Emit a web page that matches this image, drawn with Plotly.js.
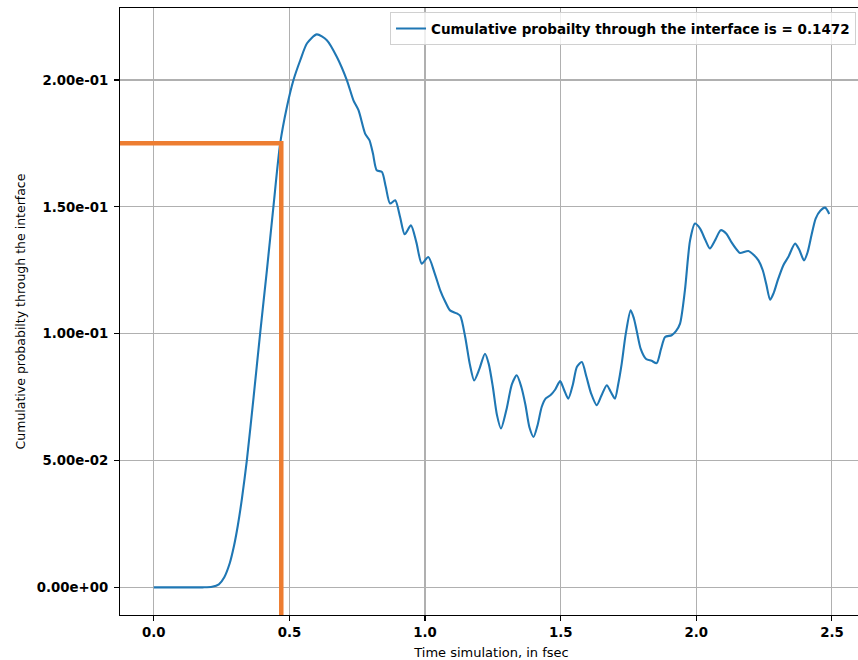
<!DOCTYPE html>
<html>
<head>
<meta charset="utf-8">
<script src="https://cdn.plot.ly/plotly-3.0.1.min.js"></script>
<style>
html,body{margin:0;padding:0;overflow:hidden;background:#fff;}
#chart{width:863px;height:660px;}
</style>
</head>
<body>
<div id="chart"></div>
<script>
// Time (fsec)
const timeFs = [0.00,0.10,0.18,0.215,0.24,0.26,0.28,0.295,0.31,0.325,0.343,0.368,0.392,0.417,0.441,0.466,0.490,0.515,0.540,0.565,0.601,0.638,0.675,0.712,0.736,0.755,0.779,0.795,0.808,0.822,0.841,0.855,0.871,0.890,0.908,0.925,0.948,0.968,0.988,1.012,1.035,1.056,1.075,1.092,1.117,1.130,1.148,1.165,1.181,1.200,1.221,1.235,1.250,1.265,1.280,1.300,1.320,1.338,1.355,1.370,1.385,1.400,1.415,1.430,1.445,1.462,1.480,1.498,1.512,1.528,1.545,1.560,1.578,1.595,1.612,1.633,1.650,1.670,1.685,1.700,1.712,1.725,1.740,1.758,1.770,1.780,1.795,1.815,1.835,1.854,1.870,1.885,1.909,1.925,1.940,1.958,1.977,1.995,2.014,2.033,2.050,2.070,2.090,2.110,2.130,2.150,2.161,2.192,2.212,2.229,2.245,2.258,2.272,2.285,2.300,2.321,2.339,2.364,2.380,2.397,2.410,2.425,2.440,2.457,2.475,2.490];
// Cumulative probability
const cumProb = [0,0,0,0.0002,0.0012,0.0040,0.0095,0.0160,0.0245,0.035,0.050,0.075,0.100,0.125,0.150,0.175,0.189,0.200,0.2078,0.2145,0.2180,0.2157,0.2091,0.1999,0.192,0.188,0.1789,0.1763,0.171,0.1644,0.1638,0.158,0.1513,0.1526,0.146,0.1392,0.1427,0.136,0.1276,0.1302,0.124,0.1171,0.1125,0.1092,0.1080,0.1070,0.0987,0.088,0.0816,0.086,0.0921,0.088,0.0790,0.068,0.0626,0.070,0.080,0.0836,0.079,0.0720,0.063,0.0593,0.064,0.0711,0.0745,0.0757,0.078,0.0813,0.078,0.0744,0.080,0.087,0.0888,0.083,0.0765,0.0718,0.0755,0.0797,0.077,0.0744,0.080,0.0882,0.100,0.1092,0.106,0.1013,0.094,0.0900,0.0893,0.0884,0.094,0.0987,0.0994,0.1010,0.104,0.1171,0.1368,0.1434,0.1414,0.1370,0.1336,0.137,0.1408,0.1395,0.1360,0.1330,0.1318,0.1326,0.1310,0.1289,0.1250,0.1195,0.1134,0.116,0.1210,0.1270,0.1302,0.1355,0.1330,0.1289,0.1320,0.1390,0.1454,0.1485,0.1497,0.1472];
// Orange marker lines (time, probability)
const markX = [-0.14, 0.47, 0.47];
const markY = [0.1751, 0.1751, -0.02];
// Tick labels
const yTickVals = [0, 0.05, 0.10, 0.15, 0.20];
const yTickText = ['0.00e+00','5.00e-02','1.00e-01','1.50e-01','2.00e-01'];
const xTickVals = [0, 0.5, 1.0, 1.5, 2.0, 2.5];
const xTickText = ['0.0','0.5','1.0','1.5','2.0','2.5'];

const tickFont = {family:'DejaVu Sans', size:13.3, color:'#000', weight:'bold'};
const legFont = {family:'DejaVu Sans', size:13.5, color:'#000', weight:'bold'};

const traces = [
  {x: timeFs, y: cumProb, type:'scatter', mode:'lines',
   name:'Cumulative probailty through the interface is = 0.1472',
   line:{color:'#1f77b4', width:2.1, shape:'spline', smoothing:0.7}},
  {x: markX, y: markY, type:'scatter', mode:'lines', showlegend:false,
   line:{color:'#ed7d31', width:4.5}}
];

const layout = {
  width:863, height:660,
  margin:{l:120, r:0, t:8, b:45},
  paper_bgcolor:'#fff', plot_bgcolor:'#fff',
  showlegend:true,
  legend:{x:0.9906, y:0.993, xanchor:'right', yanchor:'top',
          bgcolor:'rgba(255,255,255,0.8)', bordercolor:'#d0d0d0', borderwidth:1,
          font:legFont, itemwidth:30, tracegroupgap:0},
  xaxis:{range:[-0.1245, 2.6145], tickvals:xTickVals, ticktext:xTickText,
         showgrid:true, gridcolor:'#b0b0b0', gridwidth:1.1, zeroline:false,
         showline:true, linecolor:'#000', linewidth:1.1, mirror:true,
         ticks:'outside', ticklen:5, tickwidth:1.1, tickcolor:'#000',
         tickfont:tickFont,
         title:{text:'Time simulation, in fsec', font:{family:'DejaVu Sans', size:13, color:'#000'}, standoff:9}},
  yaxis:{range:[-0.0109, 0.2284], tickvals:yTickVals, ticktext:yTickText,
         showgrid:true, gridcolor:'#b0b0b0', gridwidth:1.1, zeroline:false,
         showline:true, linecolor:'#000', linewidth:1.1, mirror:true,
         ticks:'outside', ticklen:5, tickwidth:1.1, tickcolor:'#000',
         tickfont:tickFont, ticklabelstandoff:3,
         title:{text:'Cumulative probabilty through the interface', font:{family:'DejaVu Sans', size:12.5, color:'#000'}, standoff:8}}
};

Plotly.newPlot('chart', traces, layout, {displayModeBar:false, staticPlot:true});
</script>
</body>
</html>
